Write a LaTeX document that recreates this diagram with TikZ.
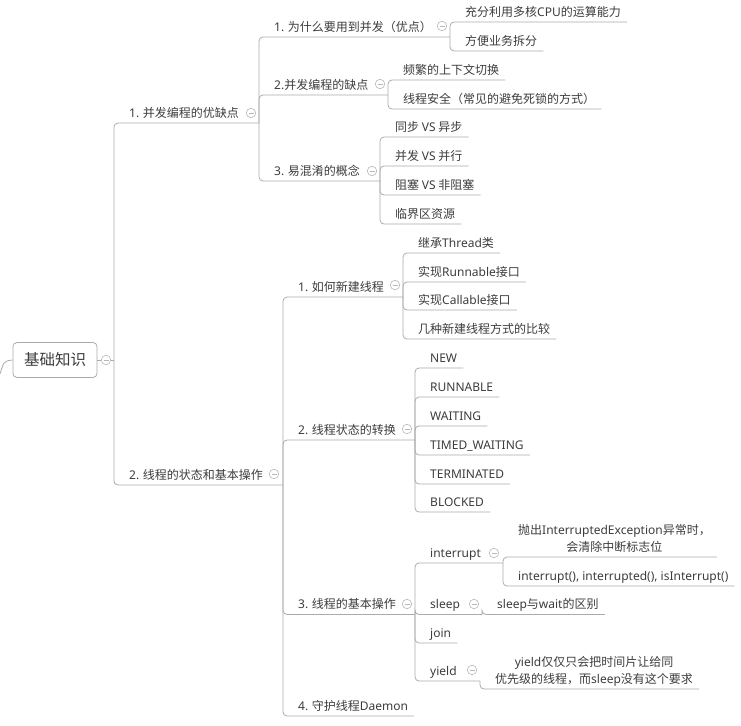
\documentclass[tikz,border=0pt]{standalone}
\usepackage{fontspec}
\usepackage{tikz,xcolor}
\usetikzlibrary{positioning}
\newfontfamily\cjk{Noto Sans CJK SC}
\newfontfamily\engfont{Noto Sans}
\newcommand{\eng}[1]{{\engfont #1}}
\definecolor{txtc}{HTML}{3C3C3C}
\definecolor{linec}{HTML}{ABABAB}
\definecolor{foldc}{HTML}{B8B8B8}
\tikzset{
    branch/.style={draw=linec, line width=0.8pt, rounded corners=4pt}, % 分支连线
    topic/.style={anchor=south west, xshift=9pt, inner xsep=6pt, inner ysep=2.5pt,
        text height=10pt, text depth=3pt, text=txtc, font=\cjk\fontsize{12}{16.5}\selectfont},
    note/.style={topic, align=center},
    fold/.style={circle, draw=foldc, line width=0.6pt, inner sep=0pt, minimum size=9.5pt, fill=white,
        path picture={\draw[foldc, line width=0.6pt] ([xshift=-2.5pt]path picture bounding box.center) -- ([xshift=2.5pt]path picture bounding box.center);}},
    rootbox/.style={draw=linec, line width=0.8pt, rounded corners=4pt, minimum width=84pt,
        minimum height=35pt, text=txtc, font=\cjk\fontsize{15.5}{18}\selectfont}
}

\begin{document}
\begin{tikzpicture}[x=1pt, y=-1pt]
    \useasboundingbox (0,0) rectangle (741,725);

    % 根节点
    \coordinate (in0) at (0,374);
    \node (root) [rootbox] at (55,360) {基础知识};
    \node (o0) [fold] at (106,360) {};
    \coordinate (j0) at (114,360);
    \draw[branch] (in0) .. controls (4,361) .. (root.west);
    \draw[branch] (root.east) -- (o0.west);
    \draw[branch] (o0.east) -- (j0);

    % 第一层
    \node (a) [topic] at (114,123) {\eng{1.} 并发编程的优缺点};
    \node (oa) [fold] at (251,113) {};
    \coordinate (ja) at (259,123);
    \node (b) [topic] at (114,485) {\eng{2.} 线程的状态和基本操作};
    \node (ob) [fold] at (274,474) {};
    \coordinate (jb) at (283,485);
    \draw[branch] (j0) |- (ja);
    \draw[branch] (j0) |- (jb);

    % 1. 并发编程的优缺点
    \node (a1) [topic] at (259,37) {\eng{1.} 为什么要用到并发（优点）};
    \node (oa1) [fold] at (442,26) {};
    \coordinate (ja1) at (450,37);
    \node (a2) [topic] at (259,95) {\eng{2.}并发编程的缺点};
    \node (oa2) [fold] at (380,84) {};
    \coordinate (ja2) at (388,95);
    \node (a3) [topic] at (259,181) {\eng{3.} 易混淆的概念};
    \node (oa3) [fold] at (372,171) {};
    \coordinate (ja3) at (380,181);
    \draw[branch] (ja) |- (ja1);
    \draw[branch] (ja) |- (ja2);
    \draw[branch] (ja) |- (ja3);

    \node (a11) [topic] at (450,22) {充分利用多核\eng{CPU}的运算能力};
    \node (a12) [topic] at (450,51) {方便业务拆分};
    \draw[branch] (ja1) |- (a11.south east);
    \draw[branch] (ja1) |- (a12.south east);

    \node (a21) [topic] at (388,80) {频繁的上下文切换};
    \node (a22) [topic] at (388,109) {线程安全（常见的避免死锁的方式）};
    \draw[branch] (ja2) |- (a21.south east);
    \draw[branch] (ja2) |- (a22.south east);

    \node (a31) [topic] at (380,137) {同步 \eng{VS} 异步};
    \node (a32) [topic] at (380,166) {并发 \eng{VS} 并行};
    \node (a33) [topic] at (380,195) {阻塞 \eng{VS} 非阻塞};
    \node (a34) [topic] at (380,224) {临界区资源};
    \foreach \n in {a31,a32,a33,a34}
        \draw[branch] (ja3) |- (\n.south east);

    % 2. 线程的状态和基本操作
    \node (b1) [topic] at (283,297) {\eng{1.} 如何新建线程};
    \node (ob1) [fold] at (395,285) {};
    \coordinate (jb1) at (403,297);
    \node (b2) [topic] at (283,440) {\eng{2.} 线程状态的转换};
    \node (ob2) [fold] at (407,429) {};
    \coordinate (jb2) at (415,440);
    \node (b3) [topic] at (283,614.5) {\eng{3.} 线程的基本操作};
    \node (ob3) [fold] at (407,604) {};
    \coordinate (jb3) at (415,614.5);
    \node (b4) [topic] at (283,716) {\eng{4.} 守护线程\eng{Daemon}};
    \draw[branch] (jb) |- (jb1);
    \draw[branch] (jb) |- (jb2);
    \draw[branch] (jb) |- (jb3);
    \draw[branch] (jb) |- (b4.south east);

    \node (b11) [topic] at (403,253) {继承\eng{Thread}类};
    \node (b12) [topic] at (403,282) {实现\eng{Runnable}接口};
    \node (b13) [topic] at (403,310) {实现\eng{Callable}接口};
    \node (b14) [topic] at (403,339) {几种新建线程方式的比较};
    \foreach \n in {b11,b12,b13,b14}
        \draw[branch] (jb1) |- (\n.south east);

    \node (b21) [topic] at (415,368) {\eng{NEW}};
    \node (b22) [topic] at (415,397) {\eng{RUNNABLE}};
    \node (b23) [topic] at (415,426) {\eng{WAITING}};
    \node (b24) [topic] at (415,455) {\eng{TIMED\_WAITING}};
    \node (b25) [topic] at (415,484) {\eng{TERMINATED}};
    \node (b26) [topic] at (415,512) {\eng{BLOCKED}};
    \foreach \n in {b21,b22,b23,b24,b25,b26}
        \draw[branch] (jb2) |- (\n.south east);

    % 3. 线程的基本操作
    \node (b31) [topic] at (415,563) {\eng{interrupt}};
    \node (ob31) [fold] at (494,553) {};
    \coordinate (jb31) at (503,563);
    \node (b32) [topic] at (415,614.5) {\eng{sleep}};
    \node (ob32) [fold] at (474,604) {};
    \coordinate (jb32) at (482,614.5);
    \node (b33) [topic] at (415,643) {\eng{join}};
    \node (b34) [topic] at (415,681) {\eng{yield}};
    \node (ob34) [fold] at (472,670) {};
    \coordinate (jb34) at (480,681);
    \draw[branch] (jb3) |- (jb31);
    \draw[branch] (jb3) |- (jb32);
    \draw[branch] (jb3) |- (b33.south east);
    \draw[branch] (jb3) |- (jb34);

    \node (b311) [note] at (503,557) {抛出\eng{InterruptedException}异常时，\\会清除中断标志位};
    \node (b312) [topic] at (503,586) {\eng{interrupt(), interrupted(), isInterrupt()}};
    \draw[branch] (jb31) |- (b311.south east);
    \draw[branch] (jb31) |- (b312.south east);

    \node (b321) [topic] at (482,614.5) {\eng{sleep}与\eng{wait}的区别};
    \draw[branch] (jb32) |- (b321.south east);

    \node (b341) [note] at (480,689) {\eng{yield}仅仅只会把时间片让给同\\优先级的线程，而\eng{sleep}没有这个要求};
    \draw[branch] (jb34) |- (b341.south east);
\end{tikzpicture}
\end{document}
